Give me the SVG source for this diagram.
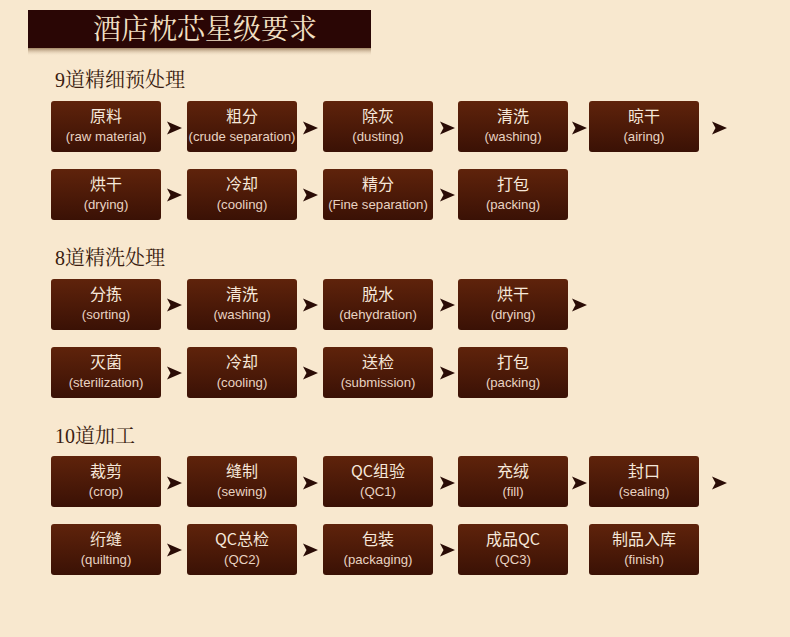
<svg xmlns="http://www.w3.org/2000/svg" xmlns:xlink="http://www.w3.org/1999/xlink" width="790" height="637" viewBox="0 0 790 637">
<defs>
<linearGradient id="bg" x1="0" y1="0" x2="0" y2="1">
<stop offset="0" stop-color="#5f230b"/>
<stop offset="1" stop-color="#3a1105"/>
</linearGradient>
<linearGradient id="sh" x1="0" y1="0" x2="0" y2="1">
<stop offset="0" stop-color="#8a6a48"/>
<stop offset="1" stop-color="#f7e6ce" stop-opacity="0"/>
</linearGradient>
<path id="arr" d="M0,-6.5 L15,0 L0,6.5 L3.5,0 Z" fill="#2a0c06"/>
<style>
.box{fill:url(#bg);}
.cn{font-family:"Noto Sans CJK SC","Noto Sans",sans-serif;font-size:16px;fill:#f6e8da;text-anchor:middle;}
.en{font-family:"Liberation Sans",Arial,sans-serif;font-size:13.2px;fill:#e9d3c2;text-anchor:middle;}
.hd{font-family:"Liberation Serif","Noto Serif CJK SC","Noto Sans CJK SC",serif;font-size:20px;fill:#3a1c10;}
.tt{font-family:"Liberation Serif","Noto Serif CJK SC","Noto Sans CJK SC",serif;font-size:28px;fill:#f2e0c4;text-anchor:middle;}
</style>
</defs>
<rect width="790" height="637" fill="#f8e8cf"/>
<g id="banner">
<rect x="28" y="47" width="343" height="9" fill="url(#sh)"/>
<rect x="28" y="10" width="343" height="38" fill="#2a0605"/>
<text class="tt" x="205" y="39">酒店枕芯星级要求</text>
</g>
<text class="hd" x="55" y="87">9道精细预处理</text>
<text class="hd" x="55" y="265">8道精洗处理</text>
<text class="hd" x="55" y="443">10道加工</text>

<g id="n1"><rect class="box" x="51" y="101" width="110" height="51" rx="3"/><text class="cn" x="106" y="122">原料</text><text class="en" x="106" y="141">(raw material)</text></g>
<g id="n2"><rect class="box" x="187" y="101" width="110" height="51" rx="3"/><text class="cn" x="242" y="122">粗分</text><text class="en" x="242" y="141">(crude separation)</text></g>
<g id="n3"><rect class="box" x="323" y="101" width="110" height="51" rx="3"/><text class="cn" x="378" y="122">除灰</text><text class="en" x="378" y="141">(dusting)</text></g>
<g id="n4"><rect class="box" x="458" y="101" width="110" height="51" rx="3"/><text class="cn" x="513" y="122">清洗</text><text class="en" x="513" y="141">(washing)</text></g>
<g id="n5"><rect class="box" x="589" y="101" width="110" height="51" rx="3"/><text class="cn" x="644" y="122">晾干</text><text class="en" x="644" y="141">(airing)</text></g>

<g id="n6"><rect class="box" x="51" y="169" width="110" height="51" rx="3"/><text class="cn" x="106" y="190">烘干</text><text class="en" x="106" y="209">(drying)</text></g>
<g id="n7"><rect class="box" x="187" y="169" width="110" height="51" rx="3"/><text class="cn" x="242" y="190">冷却</text><text class="en" x="242" y="209">(cooling)</text></g>
<g id="n8"><rect class="box" x="323" y="169" width="110" height="51" rx="3"/><text class="cn" x="378" y="190">精分</text><text class="en" x="378" y="209">(Fine separation)</text></g>
<g id="n9"><rect class="box" x="458" y="169" width="110" height="51" rx="3"/><text class="cn" x="513" y="190">打包</text><text class="en" x="513" y="209">(packing)</text></g>

<g id="n10"><rect class="box" x="51" y="279" width="110" height="51" rx="3"/><text class="cn" x="106" y="300">分拣</text><text class="en" x="106" y="319">(sorting)</text></g>
<g id="n11"><rect class="box" x="187" y="279" width="110" height="51" rx="3"/><text class="cn" x="242" y="300">清洗</text><text class="en" x="242" y="319">(washing)</text></g>
<g id="n12"><rect class="box" x="323" y="279" width="110" height="51" rx="3"/><text class="cn" x="378" y="300">脱水</text><text class="en" x="378" y="319">(dehydration)</text></g>
<g id="n13"><rect class="box" x="458" y="279" width="110" height="51" rx="3"/><text class="cn" x="513" y="300">烘干</text><text class="en" x="513" y="319">(drying)</text></g>

<g id="n14"><rect class="box" x="51" y="347" width="110" height="51" rx="3"/><text class="cn" x="106" y="368">灭菌</text><text class="en" x="106" y="387">(sterilization)</text></g>
<g id="n15"><rect class="box" x="187" y="347" width="110" height="51" rx="3"/><text class="cn" x="242" y="368">冷却</text><text class="en" x="242" y="387">(cooling)</text></g>
<g id="n16"><rect class="box" x="323" y="347" width="110" height="51" rx="3"/><text class="cn" x="378" y="368">送检</text><text class="en" x="378" y="387">(submission)</text></g>
<g id="n17"><rect class="box" x="458" y="347" width="110" height="51" rx="3"/><text class="cn" x="513" y="368">打包</text><text class="en" x="513" y="387">(packing)</text></g>

<g id="n18"><rect class="box" x="51" y="456" width="110" height="51" rx="3"/><text class="cn" x="106" y="477">裁剪</text><text class="en" x="106" y="496">(crop)</text></g>
<g id="n19"><rect class="box" x="187" y="456" width="110" height="51" rx="3"/><text class="cn" x="242" y="477">缝制</text><text class="en" x="242" y="496">(sewing)</text></g>
<g id="n20"><rect class="box" x="323" y="456" width="110" height="51" rx="3"/><text class="cn" x="378" y="477">QC组验</text><text class="en" x="378" y="496">(QC1)</text></g>
<g id="n21"><rect class="box" x="458" y="456" width="110" height="51" rx="3"/><text class="cn" x="513" y="477">充绒</text><text class="en" x="513" y="496">(fill)</text></g>
<g id="n22"><rect class="box" x="589" y="456" width="110" height="51" rx="3"/><text class="cn" x="644" y="477">封口</text><text class="en" x="644" y="496">(sealing)</text></g>

<g id="n23"><rect class="box" x="51" y="524" width="110" height="51" rx="3"/><text class="cn" x="106" y="545">绗缝</text><text class="en" x="106" y="564">(quilting)</text></g>
<g id="n24"><rect class="box" x="187" y="524" width="110" height="51" rx="3"/><text class="cn" x="242" y="545">QC总检</text><text class="en" x="242" y="564">(QC2)</text></g>
<g id="n25"><rect class="box" x="323" y="524" width="110" height="51" rx="3"/><text class="cn" x="378" y="545">包装</text><text class="en" x="378" y="564">(packaging)</text></g>
<g id="n26"><rect class="box" x="458" y="524" width="110" height="51" rx="3"/><text class="cn" x="513" y="545">成品QC</text><text class="en" x="513" y="564">(QC3)</text></g>
<g id="n27"><rect class="box" x="589" y="524" width="110" height="51" rx="3"/><text class="cn" x="644" y="545">制品入库</text><text class="en" x="644" y="564">(finish)</text></g>

<g id="connectors">
<use href="#arr" x="167" y="128"/><use href="#arr" x="303" y="128"/><use href="#arr" x="440" y="128"/><use href="#arr" x="572" y="128"/><use href="#arr" x="712" y="128"/>
<use href="#arr" x="167" y="195"/><use href="#arr" x="303" y="195"/><use href="#arr" x="440" y="195"/>
<use href="#arr" x="167" y="305"/><use href="#arr" x="303" y="305"/><use href="#arr" x="440" y="305"/><use href="#arr" x="572" y="305"/>
<use href="#arr" x="167" y="373"/><use href="#arr" x="303" y="373"/><use href="#arr" x="440" y="373"/>
<use href="#arr" x="167" y="483"/><use href="#arr" x="303" y="483"/><use href="#arr" x="440" y="483"/><use href="#arr" x="572" y="483"/><use href="#arr" x="712" y="483"/>
<use href="#arr" x="167" y="550"/><use href="#arr" x="303" y="550"/><use href="#arr" x="440" y="550"/>
</g>
</svg>
